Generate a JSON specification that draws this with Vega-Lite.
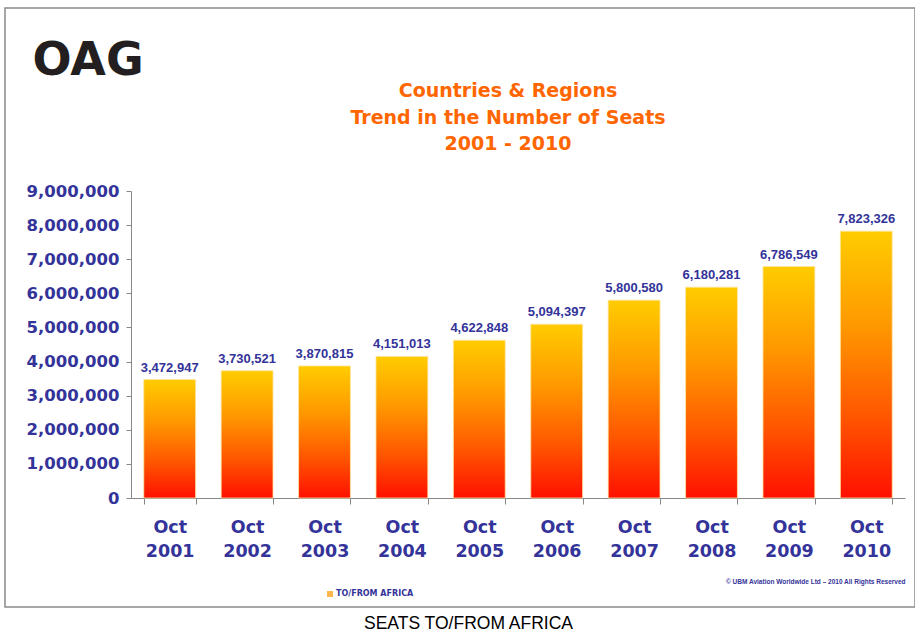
{
  "$schema": "https://vega.github.io/schema/vega-lite/v6.json",
  "width": 910,
  "height": 599,
  "autosize": "none",
  "padding": {"left": 5, "top": 8, "right": 0, "bottom": 26},
  "background": "white",
  "config": {"view": {"stroke": "#8a8a8a", "strokeWidth": 1.5}},
  "title": {
    "text": ["Countries & Regions", "Trend in the Number of Seats", "2001 - 2010"],
    "font": "DejaVu Sans",
    "fontWeight": "bold",
    "fontSize": 19,
    "color": "#FF6600",
    "lineHeight": 26.5,
    "anchor": "middle",
    "frame": "group",
    "dx": 48,
    "baseline": "top",
    "offset": 0,
    "dy": 146
  },
  "data": {
    "values": [
      {"period": "Oct 2001", "seats": 3472947, "series": "TO/FROM AFRICA"},
      {"period": "Oct 2002", "seats": 3730521, "series": "TO/FROM AFRICA"},
      {"period": "Oct 2003", "seats": 3870815, "series": "TO/FROM AFRICA"},
      {"period": "Oct 2004", "seats": 4151013, "series": "TO/FROM AFRICA"},
      {"period": "Oct 2005", "seats": 4622848, "series": "TO/FROM AFRICA"},
      {"period": "Oct 2006", "seats": 5094397, "series": "TO/FROM AFRICA"},
      {"period": "Oct 2007", "seats": 5800580, "series": "TO/FROM AFRICA"},
      {"period": "Oct 2008", "seats": 6180281, "series": "TO/FROM AFRICA"},
      {"period": "Oct 2009", "seats": 6786549, "series": "TO/FROM AFRICA"},
      {"period": "Oct 2010", "seats": 7823326, "series": "TO/FROM AFRICA"}
    ]
  },
  "layer": [
    {
      "mark": {
        "type": "bar",
        "color": {
          "gradient": "linear", "x1": 0, "y1": 0, "x2": 0, "y2": 1,
          "stops": [
            {"offset": 0, "color": "#FFCC00"},
            {"offset": 0.35, "color": "#FF9900"},
            {"offset": 0.7, "color": "#FF5500"},
            {"offset": 1, "color": "#FF1000"}
          ]
        },
        "stroke": "#FFE4A0",
        "strokeWidth": 0.8
      },
      "encoding": {
        "x": {
          "field": "period", "type": "nominal", "sort": null,
          "scale": {"range": [126, 900], "paddingInner": 0.33, "paddingOuter": 0.165},
          "axis": {
            "orient": "bottom", "offset": -109, "tickBand": "extent",
            "labelExpr": "split(datum.label, ' ')", "labelAngle": 0,
            "labelFont": "DejaVu Sans", "labelFontWeight": "bold", "labelFontSize": 17.5,
            "labelColor": "#333399", "labelLineHeight": 24, "labelPadding": 14, "labelBaseline": "top",
            "tickSize": 6, "tickColor": "#888888", "domainColor": "#888888",
            "title": "SEATS TO/FROM AFRICA", "titleX": 463, "titleY": 130,
            "titleAlign": "center", "titleBaseline": "alphabetic", "titleFont": "Liberation Sans",
            "titleFontWeight": "normal", "titleFontSize": 17.5, "titleColor": "#000000"
          }
        },
        "y": {
          "field": "seats", "type": "quantitative",
          "scale": {"domain": [0, 9000000], "range": [490, 183], "nice": false},
          "axis": {
            "orient": "left", "offset": -126,
            "values": [0, 1000000, 2000000, 3000000, 4000000, 5000000, 6000000, 7000000, 8000000, 9000000],
            "format": ",d", "grid": false,
            "labelFont": "DejaVu Sans", "labelFontWeight": "bold", "labelFontSize": 16.5,
            "labelColor": "#333399", "labelPadding": 7,
            "tickSize": 5, "tickColor": "#888888", "domainColor": "#888888",
            "title": "OAG", "titleAngle": 0, "titleX": -99, "titleY": 66,
            "titleAlign": "left", "titleBaseline": "alphabetic",
            "titleFont": "DejaVu Sans", "titleFontWeight": "bold", "titleFontSize": 46, "titleColor": "#231F20"
          }
        }
      }
    },
    {
      "mark": {
        "type": "text", "baseline": "bottom", "dy": -5,
        "font": "Liberation Sans", "fontWeight": "bold", "fontSize": 13, "color": "#333399"
      },
      "encoding": {
        "x": {"field": "period", "type": "nominal", "sort": null},
        "y": {
          "field": "seats", "type": "quantitative",
          "scale": {"domain": [0, 9000000], "range": [490, 183], "nice": false},
          "axis": null
        },
        "text": {"field": "seats", "type": "quantitative", "format": ","}
      }
    },
    {
      "mark": {"type": "point", "shape": "square", "filled": true, "size": 0, "color": "#FF9900"},
      "encoding": {
        "x": {"field": "period", "type": "nominal", "sort": null},
        "y": {
          "field": "seats", "type": "quantitative",
          "scale": {"domain": [0, 9000000], "range": [490, 183], "nice": false},
          "axis": {
            "orient": "right", "labels": false, "ticks": false, "domain": false, "grid": false,
            "title": "© UBM Aviation Worldwide Ltd – 2010 All Rights Reserved",
            "titleAngle": 0, "titleX": -10, "titleY": 573, "titleAlign": "right", "titleBaseline": "middle",
            "titleFont": "Liberation Sans", "titleFontWeight": "bold", "titleFontSize": 6.5, "titleColor": "#333399"
          }
        },
        "shape": {
          "field": "series", "type": "nominal",
          "scale": {"range": ["square"]},
          "legend": {
            "title": null, "orient": "none", "legendX": 321, "legendY": 582,
            "symbolType": "square", "symbolSize": 36, "symbolFillColor": "#FF9900",
            "symbolStrokeColor": "#A0522D", "symbolStrokeWidth": 0.7,
            "labelFont": "DejaVu Sans", "labelFontWeight": "bold", "labelFontSize": 8,
            "labelColor": "#333399", "labelOffset": 2
          }
        }
      }
    }
  ],
  "resolve": {"scale": {"y": "independent"}}
}
